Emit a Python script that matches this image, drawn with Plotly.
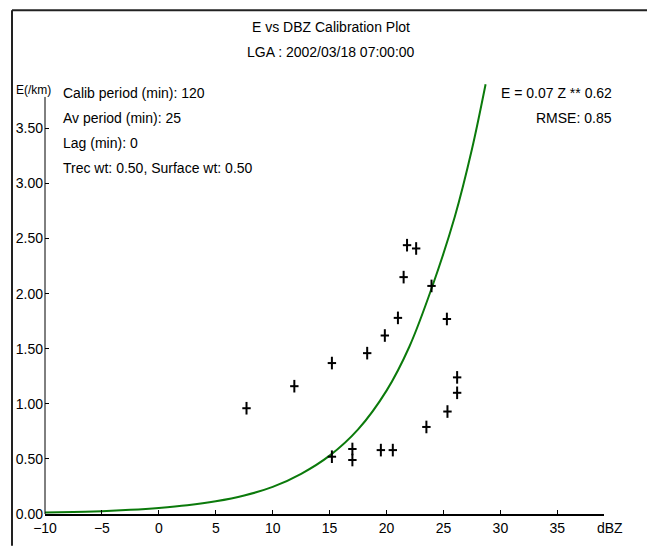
import plotly.graph_objects as go

# Observed calibration points (dBZ, E in /km)
obs_dbz = [7.7, 11.9, 15.2, 18.3, 15.2, 17.0, 17.0, 19.5, 20.55, 21.8,
           22.6, 21.5, 23.95, 21.0, 25.3, 19.85, 26.2, 26.2, 25.35, 23.5]
obs_e = [0.96, 1.16, 1.37, 1.46, 0.52, 0.59, 0.49, 0.58, 0.58, 2.44,
         2.41, 2.15, 2.07, 1.78, 1.77, 1.62, 1.24, 1.10, 0.93, 0.79]

# Fitted curve
fit_dbz = [-10, -7.5, -5, -2.5, 0, 2.5, 5, 7.5, 10, 12.5, 15, 17.5, 20, 22, 24, 26, 27.5, 28.7]
fit_e = [0.013, 0.018, 0.026, 0.038, 0.055, 0.079, 0.115, 0.168, 0.246, 0.365,
         0.53, 0.768, 1.12, 1.518, 2.06, 2.70, 3.31, 3.90]

title1 = "E vs DBZ Calibration Plot"
title2 = "LGA : 2002/03/18 07:00:00"
info_left = ["Calib period (min): 120", "Av period (min): 25", "Lag (min): 0",
             "Trec wt: 0.50, Surface wt: 0.50"]
info_right = ["E = 0.07 Z ** 0.62", "RMSE: 0.85"]

W, H = 647, 548
L, R, T, B = 45, 43, 81, 32
pw, ph = W - L - R, H - T - B

def px(x):
    return (x - L) / pw

def py(y):
    return (H - B - y) / ph

FONT = "Liberation Sans, Arial, sans-serif"
FS = 14

fig = go.Figure()
fig.add_trace(go.Scatter(x=fit_dbz, y=fit_e, mode="lines",
                         line=dict(color="#0b7a0b", width=2, shape="spline", smoothing=1.0),
                         hoverinfo="skip", showlegend=False))
fig.add_trace(go.Scatter(x=obs_dbz, y=obs_e, mode="markers",
                         marker=dict(symbol="line-ns", size=9, line=dict(color="black", width=2)),
                         showlegend=False))
fig.add_trace(go.Scatter(x=obs_dbz, y=obs_e, mode="markers",
                         marker=dict(symbol="line-ew", size=6, line=dict(color="black", width=2)),
                         showlegend=False, hoverinfo="skip"))

ann = []
ann.append(dict(text=title1, x=px(331), y=py(27), xref="paper", yref="paper", showarrow=False,
                font=dict(size=FS, color="black", family=FONT), xanchor="center", yanchor="middle"))
ann.append(dict(text=title2, x=px(331), y=py(52), xref="paper", yref="paper", showarrow=False,
                font=dict(size=FS, color="black", family=FONT), xanchor="center", yanchor="middle"))
ann.append(dict(text="E(/km)", x=px(14), y=py(90), xref="paper", yref="paper", showarrow=False,
                font=dict(size=12, color="black", family=FONT), xanchor="left", yanchor="middle"))
for i, t in enumerate(info_left):
    ann.append(dict(text=t, x=px(61), y=py(93 + 25 * i), xref="paper", yref="paper", showarrow=False,
                    font=dict(size=FS, color="black", family=FONT), xanchor="left", yanchor="middle"))
for i, t in enumerate(info_right):
    ann.append(dict(text=t, x=px(614), y=py(93 + 25 * i), xref="paper", yref="paper", showarrow=False,
                    font=dict(size=FS, color="black", family=FONT), xanchor="right", yanchor="middle"))
ann.append(dict(text="dBZ", x=px(610), y=py(530), xref="paper", yref="paper", showarrow=False,
                font=dict(size=FS, color="black", family=FONT), xanchor="center", yanchor="middle"))

shapes = [
    dict(type="line", xref="paper", yref="paper", x0=px(12), x1=px(647), y0=py(10), y1=py(10),
         line=dict(color="#222", width=2)),
    dict(type="line", xref="paper", yref="paper", x0=px(12), x1=px(12), y0=py(10), y1=py(548),
         line=dict(color="#222", width=2)),
    dict(type="line", xref="paper", yref="paper", x0=0, x1=0, y0=0, y1=py(97),
         line=dict(color="black", width=1)),
]

fig.update_layout(
    width=W, height=H,
    margin=dict(l=L, r=R, t=T, b=B, pad=0),
    paper_bgcolor="white", plot_bgcolor="white",
    font=dict(family=FONT, size=FS, color="black"),
    annotations=ann, shapes=shapes,
    xaxis=dict(range=[-10, 39.1], dtick=5, tick0=0, showgrid=False, zeroline=False,
               showline=True, linecolor="black", linewidth=2, ticks="inside", ticklen=4,
               tickcolor="black", tickfont=dict(size=FS, family=FONT), fixedrange=True),
    yaxis=dict(range=[0, 3.93], dtick=0.5, tick0=0, tickformat=".2f", showgrid=False, zeroline=False,
               showline=False, ticks="inside", ticklen=4, tickcolor="black",
               tickfont=dict(size=FS, family=FONT), ticklabelstandoff=1, fixedrange=True),
)

fig.write_html("out.html")
